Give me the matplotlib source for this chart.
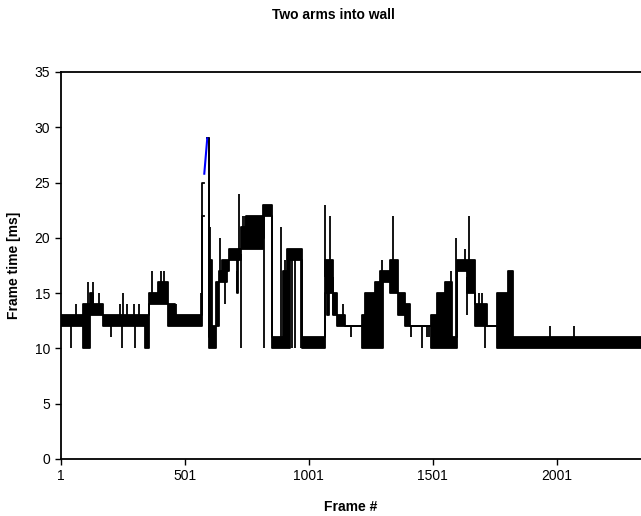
import numpy as np
import matplotlib.pyplot as plt

plt.rcParams['font.family'] = ['Liberation Sans', 'DejaVu Sans']

# Frame-time trace, read off the picture as runs: from run_start the value
# jitters between run_lo and run_hi until the next run starts.
run_start = [1, 91, 118, 132, 171, 342, 356, 393, 433, 462,
             571, 580, 592, 600, 604, 612, 626, 640, 650, 670,
             680, 711, 716, 728, 750, 818, 822, 852, 897, 915,
             926, 973, 1067, 1075, 1082, 1100, 1114, 1147, 1215, 1228,
             1268, 1288, 1302, 1329, 1362, 1389, 1410, 1494, 1517, 1551,
             1578, 1598, 1638, 1651, 1672, 1719, 1759, 1806, 1826]
run_lo = [12, 10, 13, 13, 12, 10, 14, 14, 12, 12,
          22, np.nan, 29, 10, 10, 10, 12, 16, 16, 17,
          18, 15, 18, 19, 19, 20, 22, 10, 10, 10,
          18, 10, 15, 13, 15, 13, 12, 12, 10, 10,
          10, 10, 16, 15, 13, 12, 12, 10, 10, 10,
          10, 17, 15, 15, 12, 12, 10, 10, 10]
run_hi = [13, 14, 15, 14, 13, 13, 15, 16, 14, 13,
          25, np.nan, 29, 11, 18, 12, 16, 17, 18, 18,
          19, 19, 19, 21, 22, 23, 23, 11, 17, 19,
          19, 11, 18, 18, 18, 15, 13, 12, 13, 15,
          16, 17, 17, 18, 15, 14, 12, 13, 15, 16,
          11, 18, 18, 18, 14, 12, 15, 17, 11]
last_frame = 2340

# single-frame excursions out of the runs
spike_frame = [41, 64, 111, 132, 154, 202, 239, 249, 252, 270,
               296, 299, 317, 369, 404, 417, 466, 567, 605, 644,
               663, 713, 720, 727, 738, 745, 774, 798, 805, 822,
               889, 905, 932, 946, 970, 1068, 1085, 1097, 1138, 1172,
               1298, 1342, 1414, 1457, 1477, 1486, 1573, 1595, 1632, 1640,
               1647, 1688, 1698, 1712, 1975, 2069]
spike_val = [10, 14, 16, 16, 15, 11, 14, 10, 15, 14,
             14, 10, 14, 17, 17, 17, 14, 15, 21, 20,
             14, 15, 24, 10, 22, 22, 22, 22, 22, 10,
             21, 18, 10, 10, 10, 23, 22, 13, 14, 11,
             18, 22, 11, 10, 11, 11, 17, 20, 19, 13,
             22, 15, 15, 10, 12, 12]

# the short stretch Excel drew in blue
blue_frame = [580, 592]
blue_val = [25.8, 29]

x_edges = np.array(run_start + [last_frame])
lo = np.array(run_lo + [run_lo[-1]], dtype=float)
hi = np.array(run_hi + [run_hi[-1]], dtype=float)

fig = plt.figure(figsize=(6.41, 5.16), dpi=100)
ax = fig.add_axes([0.0947, 0.1105, 0.9053, 0.75])

ax.fill_between(x_edges, lo, hi, step='post', color='black', lw=0)
ax.step(x_edges, lo, where='post', color='black', lw=1.3)
ax.step(x_edges, hi, where='post', color='black', lw=1.3)

idx = np.searchsorted(run_start, spike_frame, side='right') - 1
base = (np.array(run_lo)[idx] + np.array(run_hi)[idx]) / 2
ax.vlines(spike_frame, base, spike_val, color='black', lw=1.3)
ax.plot(blue_frame, blue_val, color='#0000ff', lw=1.5)

ax.set_xlim(1, 2341)
ax.set_ylim(0, 35)
ax.set_yticks(range(0, 36, 5))
ax.set_xticks([1, 501, 1001, 1501, 2001])
ax.tick_params(direction='out', length=4, width=1, labelsize=10, colors='black')

for s in ['left', 'bottom', 'top']:
    ax.spines[s].set_linewidth(1.3)
ax.spines['right'].set_visible(False)

fig.text(0.52, 0.970, "Two arms into wall", ha='center', va='center',
         fontsize=10, fontweight='bold')
ax.set_xlabel("Frame #", fontsize=10, fontweight='bold', labelpad=12)
ax.set_ylabel("Frame time [ms]", fontsize=10, fontweight='bold', labelpad=10)

fig.savefig("out.png", dpi=100)
